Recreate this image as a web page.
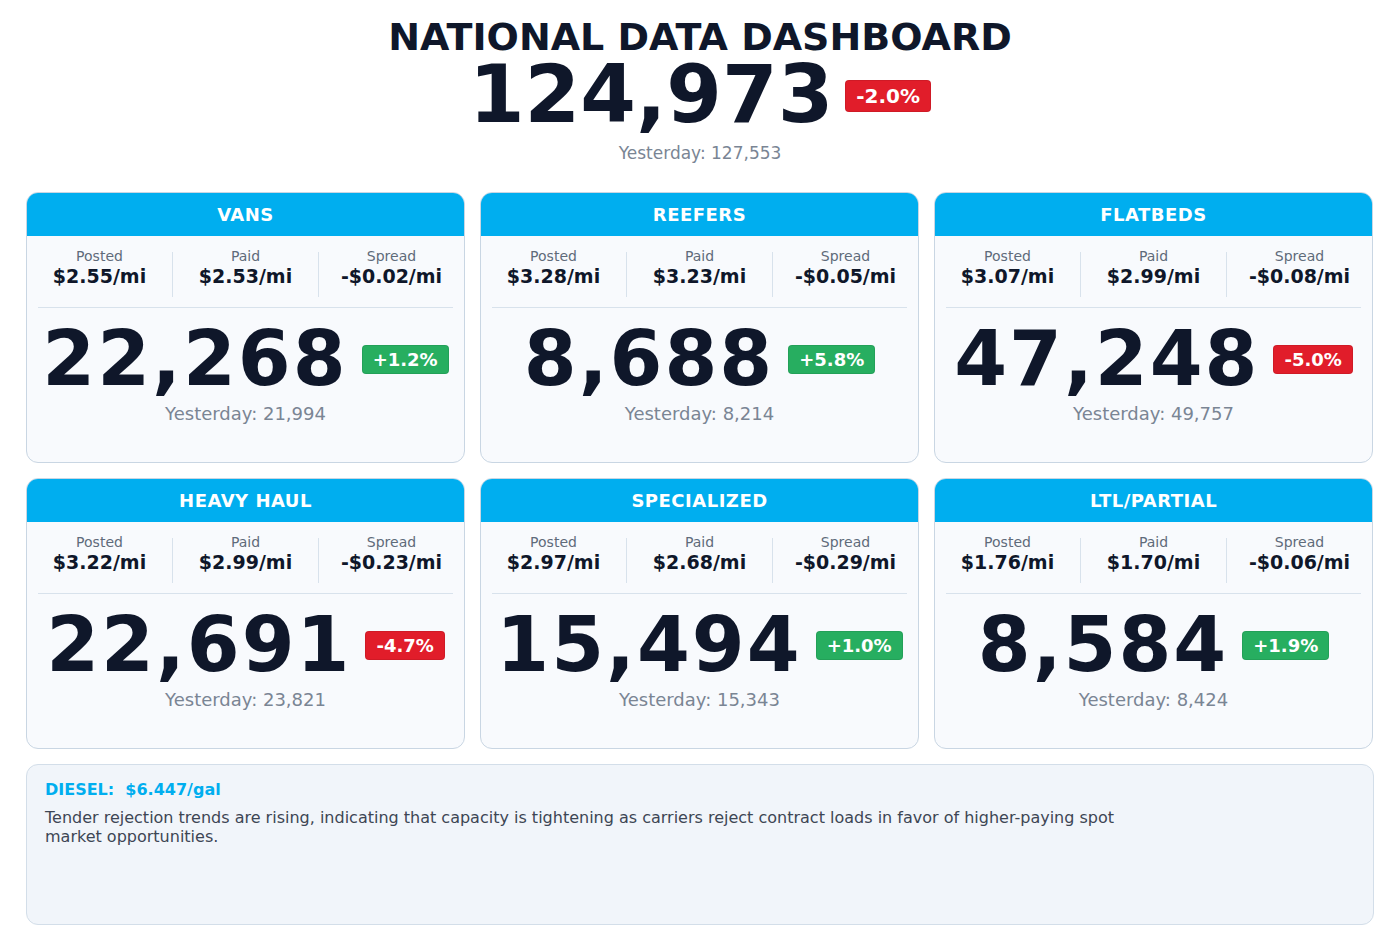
<!DOCTYPE html>
<html lang="en">
<head>
  <meta charset="UTF-8">
  <title>National Data Dashboard</title>
  <script src="https://cdn.jsdelivr.net/npm/chart.js"></script>
  <style>
    body { margin:0; width:1400px; height:940px; background:#fff; font-family:"DejaVu Sans", sans-serif; color:#0f172a; position:relative; overflow:hidden; }
    .title { position:absolute; top:15px; width:100%; text-align:center; font-size:38px; font-weight:bold; }
    .hero { position:absolute; top:47px; width:100%; display:flex; justify-content:center; align-items:center; gap:12px; height:96px; }
    .hero .num { font-size:80px; font-weight:bold; line-height:96px; }
    .badge { color:#fff; font-weight:bold; border-radius:4px; padding:3px 10px; border:1px solid rgba(0,0,0,0.08); }
    .hero .badge { font-size:20px; margin-top:2px; }
    .hero-y { position:absolute; top:143px; width:100%; text-align:center; font-size:17px; color:#7a8594; }
    .card { position:absolute; width:437px; height:269px; background:#f8fafd; border:1px solid #c9d6e3; border-radius:12px; overflow:hidden; }
    .head { background:#00aeef; height:43px; line-height:43px; color:#fff; text-align:center; font-weight:bold; font-size:18px; letter-spacing:0.5px; }
    .metrics { display:flex; margin-top:16px; height:45px; }
    .m { flex:1; text-align:center; border-left:1px solid #d8e2ec; }
    .m:first-child { border-left:none; }
    .m .l { font-size:14px; color:#5f6b7a; margin-top:-4px; }
    .m .v { font-size:19px; font-weight:bold; margin-top:1px; }
    .rule { margin:10px 11px 0; border-top:1px solid #d8e2ec; }
    .main { display:flex; justify-content:center; align-items:center; gap:14px; margin-top:7px; height:88px; }
    .main .num { font-size:76px; font-weight:bold; letter-spacing:2px; line-height:88px; }
    .main .badge { font-size:18px; }
    .yest { text-align:center; font-size:18px; color:#7a8594; margin-top:0; }
    .note { position:absolute; left:26px; top:764px; width:1346px; height:159px; background:#f1f5fa; border:1px solid #d3dee9; border-radius:12px; }
    .note .d { position:absolute; left:18px; top:15px; color:#00aeef; font-weight:bold; font-size:16px; }
    .note .t { position:absolute; left:18px; top:43px; width:1100px; font-size:16px; color:#3d4654; line-height:19px; }
  </style>
</head>
<body>
  <div class="title">NATIONAL DATA DASHBOARD</div>
  <div class="hero"><span class="num" id="heroNum"></span><span class="badge" id="heroBadge"></span></div>
  <div class="hero-y" id="heroY"></div>
  <div id="cards"></div>
  <div class="note">
    <div class="d" id="diesel"></div>
    <div class="t" id="noteText"></div>
  </div>

  <script>
    const categories = ['VANS', 'REEFERS', 'FLATBEDS', 'HEAVY HAUL', 'SPECIALIZED', 'LTL/PARTIAL'];
    const posted = [2.55, 3.28, 3.07, 3.22, 2.97, 1.76];
    const paid = [2.53, 3.23, 2.99, 2.99, 2.68, 1.70];
    const spread = [-0.02, -0.05, -0.08, -0.23, -0.29, -0.06];
    const today = [22268, 8688, 47248, 22691, 15494, 8584];
    const yesterday = [21994, 8214, 49757, 23821, 15343, 8424];
    const change = [1.2, 5.8, -5.0, -4.7, 1.0, 1.9];
    const total = 124973, totalYesterday = 127553, totalChange = -2.0;
    const diesel = 6.447;
    const note = 'Tender rejection trends are rising, indicating that capacity is tightening as carriers reject contract loads in favor of higher-paying spot market opportunities.';

    const fmt = n => n.toLocaleString('en-US');
    const pct = c => (c >= 0 ? '+' : '') + c.toFixed(1) + '%';
    const col = c => c >= 0 ? '#27ae60' : '#e11d2a';
    const rate = v => (v < 0 ? '-$' : '$') + Math.abs(v).toFixed(2) + '/mi';

    document.getElementById('heroNum').textContent = fmt(total);
    const hb = document.getElementById('heroBadge');
    hb.textContent = pct(totalChange); hb.style.background = col(totalChange);
    document.getElementById('heroY').textContent = 'Yesterday: ' + fmt(totalYesterday);
    document.getElementById('diesel').innerHTML = 'DIESEL:&nbsp; $' + diesel.toFixed(3) + '/gal';
    document.getElementById('noteText').textContent = note;

    const lefts = [26, 480, 934], tops = [192, 478];
    let html = '';
    categories.forEach((c, i) => {
      html += `<div class="card" style="left:${lefts[i % 3]}px;top:${tops[Math.floor(i / 3)]}px">
        <div class="head">${c}</div>
        <div class="metrics">
          <div class="m"><div class="l">Posted</div><div class="v">${rate(posted[i])}</div></div>
          <div class="m"><div class="l">Paid</div><div class="v">${rate(paid[i])}</div></div>
          <div class="m"><div class="l">Spread</div><div class="v">${rate(spread[i])}</div></div>
        </div>
        <div class="rule"></div>
        <div class="main"><span class="num">${fmt(today[i])}</span><span class="badge" style="background:${col(change[i])}">${pct(change[i])}</span></div>
        <div class="yest">Yesterday: ${fmt(yesterday[i])}</div>
      </div>`;
    });
    document.getElementById('cards').innerHTML = html;
  </script>
</body>
</html>
